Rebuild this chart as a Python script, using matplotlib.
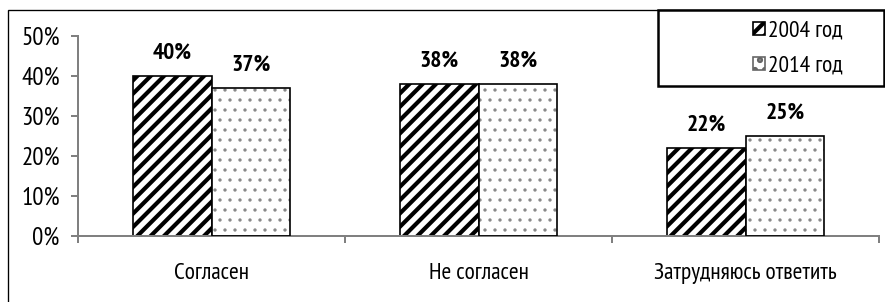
import matplotlib.pyplot as plt
import matplotlib.patches as mpatches
from matplotlib import font_manager
import numpy as np

# pick a narrow font with Cyrillic if there is one
installed = {f.name for f in font_manager.fontManager.ttflist}
narrow = [n for n in ['Liberation Sans Narrow', 'PT Sans Narrow', 'Roboto Condensed',
                      'Arimo', 'Liberation Sans'] if n in installed]
plt.rcParams['font.family'] = narrow + ['DejaVu Sans']
plt.rcParams['hatch.linewidth'] = 2.5

categories = ['Согласен', 'Не согласен', 'Затрудняюсь ответить']
series_names = ['2004 год', '2014 год']
values_2004 = [40, 38, 22]
values_2014 = [37, 38, 25]
yticks = [0, 10, 20, 30, 40, 50]

fig = plt.figure(figsize=(885 / 120, 302 / 120), dpi=120)
ax = fig.add_axes([78 / 885, 1 - 236 / 302, (879 - 78) / 885, 200 / 302])

# outer chart frame (cut by the picture edges)
fig.patches.append(mpatches.Rectangle((8 / 885, -0.05), 1.0, 1 - 10 / 302 + 0.05,
                                      transform=fig.transFigure, fill=False,
                                      edgecolor='black', linewidth=0.8))

x = np.arange(len(categories))
w = 0.295
ax.bar(x - w / 2, values_2004, w, color='white', edgecolor='black',
       hatch='///', linewidth=1.0, label=series_names[0], zorder=2)
b2 = ax.bar(x + w / 2, values_2014, w, color='white', edgecolor='#888888',
            hatch='..', linewidth=0, zorder=2)
for b in b2:
    if hasattr(b, 'set_hatch_linewidth'):
        b.set_hatch_linewidth(0.8)
ax.bar(x + w / 2, values_2014, w, color='none', edgecolor='black',
       linewidth=1.0, zorder=3)

for xi, v in zip(x - w / 2, values_2004):
    ax.text(xi, v + 3.2, f'{v}%', ha='center', va='bottom', fontsize=14,
            fontweight='bold')
for xi, v in zip(x + w / 2, values_2014):
    ax.text(xi, v + 3.2, f'{v}%', ha='center', va='bottom', fontsize=14,
            fontweight='bold')

ax.set_xlim(-0.5, 2.5)
ax.set_ylim(0, 50)
ax.set_yticks(yticks)
ax.set_yticklabels([f'{t}%' for t in yticks], fontsize=15)
ax.set_xticks(x)
ax.set_xticklabels(categories, fontsize=14)
ax.set_xticks(np.arange(-0.5, 3, 1), minor=True)
ax.tick_params(axis='x', which='major', length=0, pad=16)
ax.tick_params(axis='x', which='minor', length=4, width=1.2, color='#808080', direction='out')
ax.tick_params(axis='y', length=4, width=1.2, color='#808080', pad=7)

for s in ['top', 'right']:
    ax.spines[s].set_visible(False)
for s in ['left', 'bottom']:
    ax.spines[s].set_color('#808080')
    ax.spines[s].set_linewidth(1.2)

# legend box
fig.patches.append(mpatches.Rectangle((658 / 885, 1 - 86 / 302), (884 - 658) / 885, 76 / 302,
                                      transform=fig.transFigure, facecolor='white',
                                      edgecolor='black', linewidth=1.5, zorder=5))
h1 = mpatches.Patch(facecolor='white', edgecolor='black', hatch='///', label=series_names[0])
h2 = mpatches.Patch(facecolor='white', edgecolor='#666666', hatch='..', label=series_names[1])
leg = fig.legend(handles=[h1, h2], loc='center', bbox_to_anchor=(798 / 885, 1 - 49 / 302),
                 frameon=False, fontsize=14, handlelength=0.5, handleheight=0.5,
                 handletextpad=0.15, labelspacing=0.6)
leg.set_zorder(6)

fig.savefig('out.png', dpi=120)
